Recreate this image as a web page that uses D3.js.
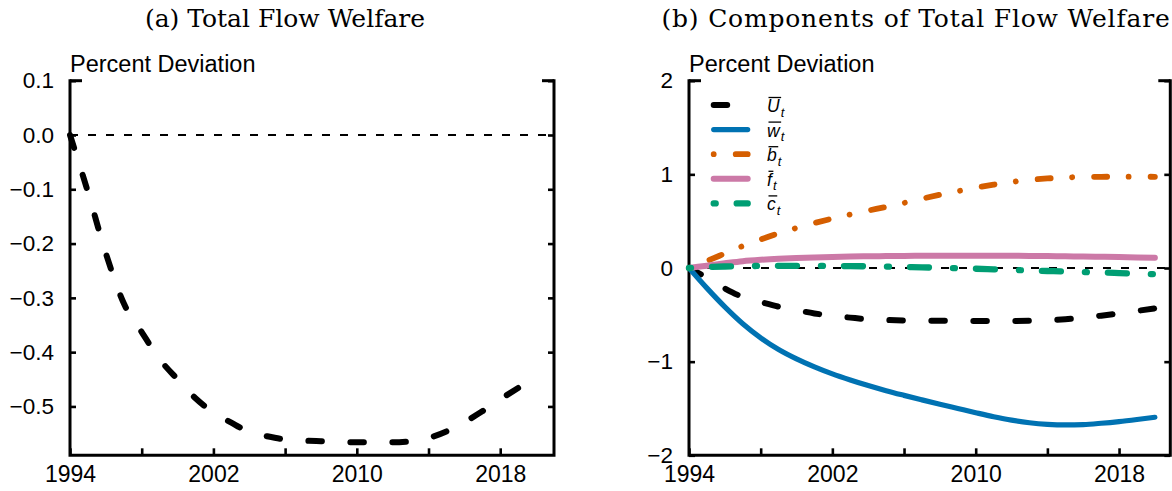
<!DOCTYPE html>
<html>
<head>
<meta charset="utf-8">
<script src="https://cdn.jsdelivr.net/npm/d3@7"></script>
<style>
  body { margin: 0; background: #fff; }
  svg { display: block; }
</style>
</head>
<body>
<svg id="chart" width="1172" height="491"></svg>
<script>
// ---- data -------------------------------------------------------------
const titles = ["(a) Total Flow Welfare", "(b) Components of Total Flow Welfare"];
const yAxisTitle = "Percent Deviation";

const yearsA = d3.range(1994, 2020);   // 1994–2019
const yearsB = d3.range(1994, 2021);   // 1994–2020

// (a) total flow welfare, percent deviation
const totalWelfare = [0, -0.105, -0.218, -0.31, -0.363, -0.413, -0.45, -0.485, -0.511, -0.53,
  -0.547, -0.555, -0.561, -0.563, -0.564, -0.565, -0.566, -0.566, -0.566, -0.564,
  -0.558, -0.546, -0.529, -0.509, -0.487, -0.466];

// (b) components
const compU = [0, -0.105, -0.218, -0.31, -0.363, -0.413, -0.45, -0.485, -0.511, -0.53,
  -0.547, -0.555, -0.561, -0.563, -0.564, -0.565, -0.566, -0.566, -0.566, -0.564,
  -0.558, -0.546, -0.529, -0.509, -0.485, -0.458, -0.432];
const compW = [0, -0.215, -0.415, -0.595, -0.745, -0.87, -0.97, -1.055, -1.13, -1.195,
  -1.255, -1.31, -1.36, -1.408, -1.455, -1.5, -1.545, -1.588, -1.625, -1.652,
  -1.669, -1.676, -1.672, -1.658, -1.64, -1.618, -1.594];
const compB = [0, 0.075, 0.155, 0.235, 0.305, 0.37, 0.428, 0.48, 0.528, 0.572,
  0.613, 0.653, 0.695, 0.74, 0.782, 0.82, 0.857, 0.89, 0.918, 0.94,
  0.956, 0.966, 0.972, 0.974, 0.975, 0.975, 0.974];
const compF = [0, 0.025, 0.05, 0.073, 0.088, 0.099, 0.107, 0.113, 0.118, 0.122,
  0.125, 0.127, 0.129, 0.13, 0.131, 0.131, 0.131, 0.131, 0.13, 0.129,
  0.127, 0.125, 0.123, 0.12, 0.117, 0.113, 0.11];
const compC = [0, 0.01, 0.016, 0.02, 0.022, 0.023, 0.023, 0.023, 0.022, 0.02,
  0.018, 0.015, 0.011, 0.007, 0.002, -0.003, -0.008, -0.014, -0.02, -0.026,
  -0.032, -0.038, -0.043, -0.048, -0.054, -0.06, -0.066];

const legendSymbols = ["U", "w", "b", "f", "c"];
const legendSub = "t";

const xTicks = [1994, 1998, 2002, 2006, 2010, 2014, 2018];
const xTickLabels = ["1994", "", "2002", "", "2010", "", "2018"];
const yTicksA = [0.1, 0, -0.1, -0.2, -0.3, -0.4, -0.5];
const yTickLabelsA = ["0.1", "0.0", "\u22120.1", "\u22120.2", "\u22120.3", "\u22120.4", "\u22120.5"];
const yTicksB = [2, 1, 0, -1, -2];
const yTickLabelsB = ["2", "1", "0", "\u22121", "\u22122"];

// ---- styles -----------------------------------------------------------
const seriesStyle = [
  { color: "#000000", width: 6,   dash: "13.5,28.5" },
  { color: "#0072B2", width: 5.2, dash: null },
  { color: "#D55E00", width: 5.8, dash: "0.01,22,13,21.5" },
  { color: "#CC79A7", width: 6,   dash: null },
  { color: "#009E73", width: 6.3, dash: "2,21,19,24" }
];
const sansFont = "'Liberation Sans', Arial, Helvetica, sans-serif";
const serifFont = "'DejaVu Serif', serif";

const svg = d3.select("#chart");
svg.append("rect").attr("width", 1172).attr("height", 491).attr("fill", "#fff");

function drawFrame(g, x, y, yTicks, yLabels) {
  const [x0, x1] = x.range();
  const [yBot, yTop] = y.range();

  // left axis ticks and labels
  g.append("g")
    .attr("transform", `translate(${x0},0)`)
    .call(d3.axisLeft(y).tickValues(yTicks).tickFormat((d, i) => yLabels[i])
      .tickSize(-6).tickPadding(16).tickSizeOuter(0))
    .call(a => a.select(".domain").remove())
    .call(a => a.selectAll("line").attr("stroke", "#000").attr("stroke-width", 2.6))
    .call(a => a.selectAll("text").attr("font-family", sansFont).attr("font-size", 22.5).attr("fill", "#000"));

  // right axis ticks
  g.append("g")
    .attr("transform", `translate(${x1},0)`)
    .call(d3.axisRight(y).tickValues(yTicks).tickFormat("").tickSize(-6).tickSizeOuter(0))
    .call(a => a.select(".domain").remove())
    .call(a => a.selectAll("line").attr("stroke", "#000").attr("stroke-width", 2.6));

  // bottom axis ticks and labels
  g.append("g")
    .attr("transform", `translate(0,${yBot})`)
    .call(d3.axisBottom(x).tickValues(xTicks).tickFormat((d, i) => xTickLabels[i])
      .tickSize(-7).tickPadding(10).tickSizeOuter(0))
    .call(a => a.select(".domain").remove())
    .call(a => a.selectAll("line").attr("stroke", "#000").attr("stroke-width", 2.6))
    .call(a => a.selectAll("text").attr("font-family", sansFont).attr("font-size", 23).attr("fill", "#000"));

  // longer ticks at the top of both vertical axes
  g.append("line").attr("x1", x0).attr("x2", x0 + 12).attr("y1", yTop).attr("y2", yTop)
    .attr("stroke", "#000").attr("stroke-width", 3);
  g.append("line").attr("x1", x1 - 12).attr("x2", x1).attr("y1", yTop).attr("y2", yTop)
    .attr("stroke", "#000").attr("stroke-width", 3);

  // open-top frame
  g.append("path")
    .attr("d", `M${x0},${yTop}V${yBot}H${x1}V${yTop}`)
    .attr("fill", "none").attr("stroke", "#000").attr("stroke-width", 3)
    .attr("stroke-linecap", "square");

  // zero reference
  g.append("line")
    .attr("x1", x0).attr("x2", x1).attr("y1", y(0)).attr("y2", y(0))
    .attr("stroke", "#000").attr("stroke-width", 1.8).attr("stroke-dasharray", "8,10");

  g.append("text")
    .attr("x", x0).attr("y", yTop - 9)
    .attr("font-family", sansFont).attr("font-size", 23.5)
    .text(yAxisTitle);
}

function drawSeries(g, x, y, years, values, st) {
  const line = d3.line()
    .x((d, i) => x(years[i]))
    .y(d => y(d))
    .curve(d3.curveMonotoneX);
  g.append("path")
    .datum(values)
    .attr("d", line)
    .attr("fill", "none")
    .attr("stroke", st.color)
    .attr("stroke-width", st.width)
    .attr("stroke-linecap", "round")
    .attr("stroke-linejoin", "round")
    .attr("stroke-dasharray", st.dash);
}

// ---- panel (a) --------------------------------------------------------
const xA = d3.scaleLinear().domain([1994, 2021]).range([70, 554]);
const yA = d3.scaleLinear().domain([-0.59, 0.1]).range([455.3, 80.7]);
const gA = svg.append("g");
drawFrame(gA, xA, yA, yTicksA, yTickLabelsA);
drawSeries(gA, xA, yA, yearsA, totalWelfare, seriesStyle[0]);

// ---- panel (b) --------------------------------------------------------
const xB = d3.scaleLinear().domain([1994, 2020.86]).range([689, 1170.3]);
const yB = d3.scaleLinear().domain([-2, 2]).range([455.3, 80.7]);
const gB = svg.append("g");
drawFrame(gB, xB, yB, yTicksB, yTickLabelsB);
[compU, compW, compB, compF, compC].forEach((vals, i) =>
  drawSeries(gB, xB, yB, yearsB, vals, seriesStyle[i]));

// legend
const legend = gB.append("g");
legendSymbols.forEach((sym, i) => {
  const st = seriesStyle[i];
  const ry = 105 + i * 24.6;
  legend.append("line")
    .attr("x1", 713.7).attr("x2", 747.7).attr("y1", ry).attr("y2", ry)
    .attr("stroke", st.color).attr("stroke-width", st.width)
    .attr("stroke-linecap", "round").attr("stroke-dasharray", st.dash);
  const t = legend.append("text")
    .attr("x", 767).attr("y", ry + 7)
    .attr("font-family", sansFont).attr("font-style", "italic").attr("font-size", 17.5);
  t.append("tspan").text(sym);
  t.append("tspan").attr("font-size", 13).attr("dx", 1).attr("dy", 4.5).text(legendSub);
  const w = t.node().getSubStringLength(0, 1);
  legend.append("line")
    .attr("x1", 768.5).attr("x2", 767 + w + 1.5)
    .attr("y1", ry - 7.5).attr("y2", ry - 7.5)
    .attr("stroke", "#000").attr("stroke-width", 1.3);
});

// ---- titles -----------------------------------------------------------
svg.append("text").attr("x", 285).attr("y", 27).attr("text-anchor", "middle")
  .attr("font-family", serifFont).attr("font-size", 25).text(titles[0]);
svg.append("text").attr("x", 916).attr("y", 27).attr("text-anchor", "middle")
  .attr("font-family", serifFont).attr("font-size", 25).attr("letter-spacing", 0.8)
  .text(titles[1]);
</script>
</body>
</html>
